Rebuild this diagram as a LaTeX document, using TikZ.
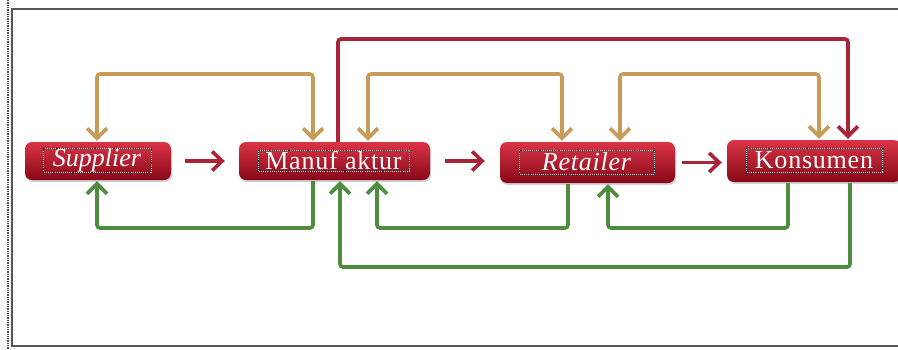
\documentclass[tikz,border=0pt]{standalone}
\usepackage{fontspec}
\setmainfont{Liberation Serif}
\usetikzlibrary{arrows.meta, positioning, calc, shadows}
\definecolor{flowred}{RGB}{168,36,54}
\definecolor{infotan}{RGB}{201,155,88}
\definecolor{cashgreen}{RGB}{78,140,64}
\definecolor{boxtop}{RGB}{218,52,70}
\definecolor{boxmid}{RGB}{196,20,40}
\definecolor{boxbot}{RGB}{135,8,24}
\definecolor{framegray}{RGB}{85,85,85}

\begin{document}
\begin{tikzpicture}[
    x=1pt, y=-1pt,
    actor/.style={rounded corners=7pt, minimum height=38pt, top color=boxtop, middle color=boxmid, bottom color=boxbot, drop shadow={opacity=0.35, shadow xshift=1pt, shadow yshift=-2pt}},
    label box/.style={draw=white, line width=0.9pt, postaction={draw=black, densely dotted, line width=0.9pt}, inner sep=0pt, text=white, font=\fontsize{26}{26}\selectfont},
    flow/.style={-{Straight Barb[length=10pt, width=19pt]}, line width=3.6pt, flowred},
    info/.style={{Straight Barb[length=10pt, width=20pt]}-{Straight Barb[length=10pt, width=20pt]}, line width=3.6pt, infotan, rounded corners=3pt, shorten <=1pt, shorten >=1pt},
    cash/.style={-{Straight Barb[length=10pt, width=20pt]}, line width=3.6pt, cashgreen, rounded corners=3pt, shorten <=1pt, shorten >=1pt},
    longflow/.style={-{Straight Barb[length=10pt, width=20pt]}, line width=3.6pt, flowred, rounded corners=3pt, shorten >=1pt}
]
    \useasboundingbox (0,0) rectangle (898,349);

    % Frame
    \draw[densely dotted, line width=1.3pt, black!70] (8,0) -- (8,349);
    \draw[framegray, line width=1.2pt] (898,9) -- (12,9) -- (12,346) -- (898,346);

    % Chain members
    \node[actor, minimum width=146pt] (sup) at (98,161) {};
    \node[actor, minimum width=191pt] (man) at (334.5,161) {};
    \node[actor, minimum width=175pt, minimum height=41pt] (ret) at (587.5,162.5) {};
    \node[actor, minimum width=174pt, minimum height=42pt] (kon) at (814,161) {};

    \node[label box, minimum width=108pt, minimum height=21pt] (suptxt) at (97,160.5) {\itshape Supplier};
    \node[label box, minimum width=151pt, minimum height=21pt] (mantxt) at (333.5,160.5) {\addfontfeature{LetterSpace=3}Manuf aktur};
    \node[label box, minimum width=135pt, minimum height=24pt] (rettxt) at (586.5,162) {\itshape\addfontfeature{LetterSpace=3}Retailer};
    \node[label box, minimum width=136pt, minimum height=24pt] (kontxt) at (814,160) {\addfontfeature{LetterSpace=3}Konsumen};

    % Product flow
    \draw[flow, shorten <=14pt, shorten >=14pt] (sup.east) -- (man.west);
    \draw[flow, shorten <=15pt, shorten >=15pt] (man.east) -- (ret.west |- man.east);
    \draw[flow, shorten <=7pt, shorten >=5pt] (ret.east) -- (kon.west |- ret.east);
    \draw[longflow] (man.north -| 338,0) -- (338,39) -| (kon.north -| 848,0);

    % Information flow
    \draw[info] (sup.north -| 97,0) -- (97,74) -| (man.north -| 313,0);
    \draw[info] (man.north -| 368,0) -- (368,74) -| (ret.north -| 562,0);
    \draw[info] (ret.north -| 620,0) -- (620,74) -| (kon.north -| 819,0);

    % Financial flow
    \draw[cash] (man.south -| 313,0) -- (313,228) -| (sup.south -| 97,0);
    \draw[cash] (ret.south -| 568,0) -- (568,228) -| (man.south -| 377,0);
    \draw[cash] (kon.south -| 788,0) -- (788,228) -| (ret.south -| 608,0);
    \draw[cash] (kon.south -| 850,0) -- (850,267) -| (man.south -| 340,0);
\end{tikzpicture}
\end{document}
